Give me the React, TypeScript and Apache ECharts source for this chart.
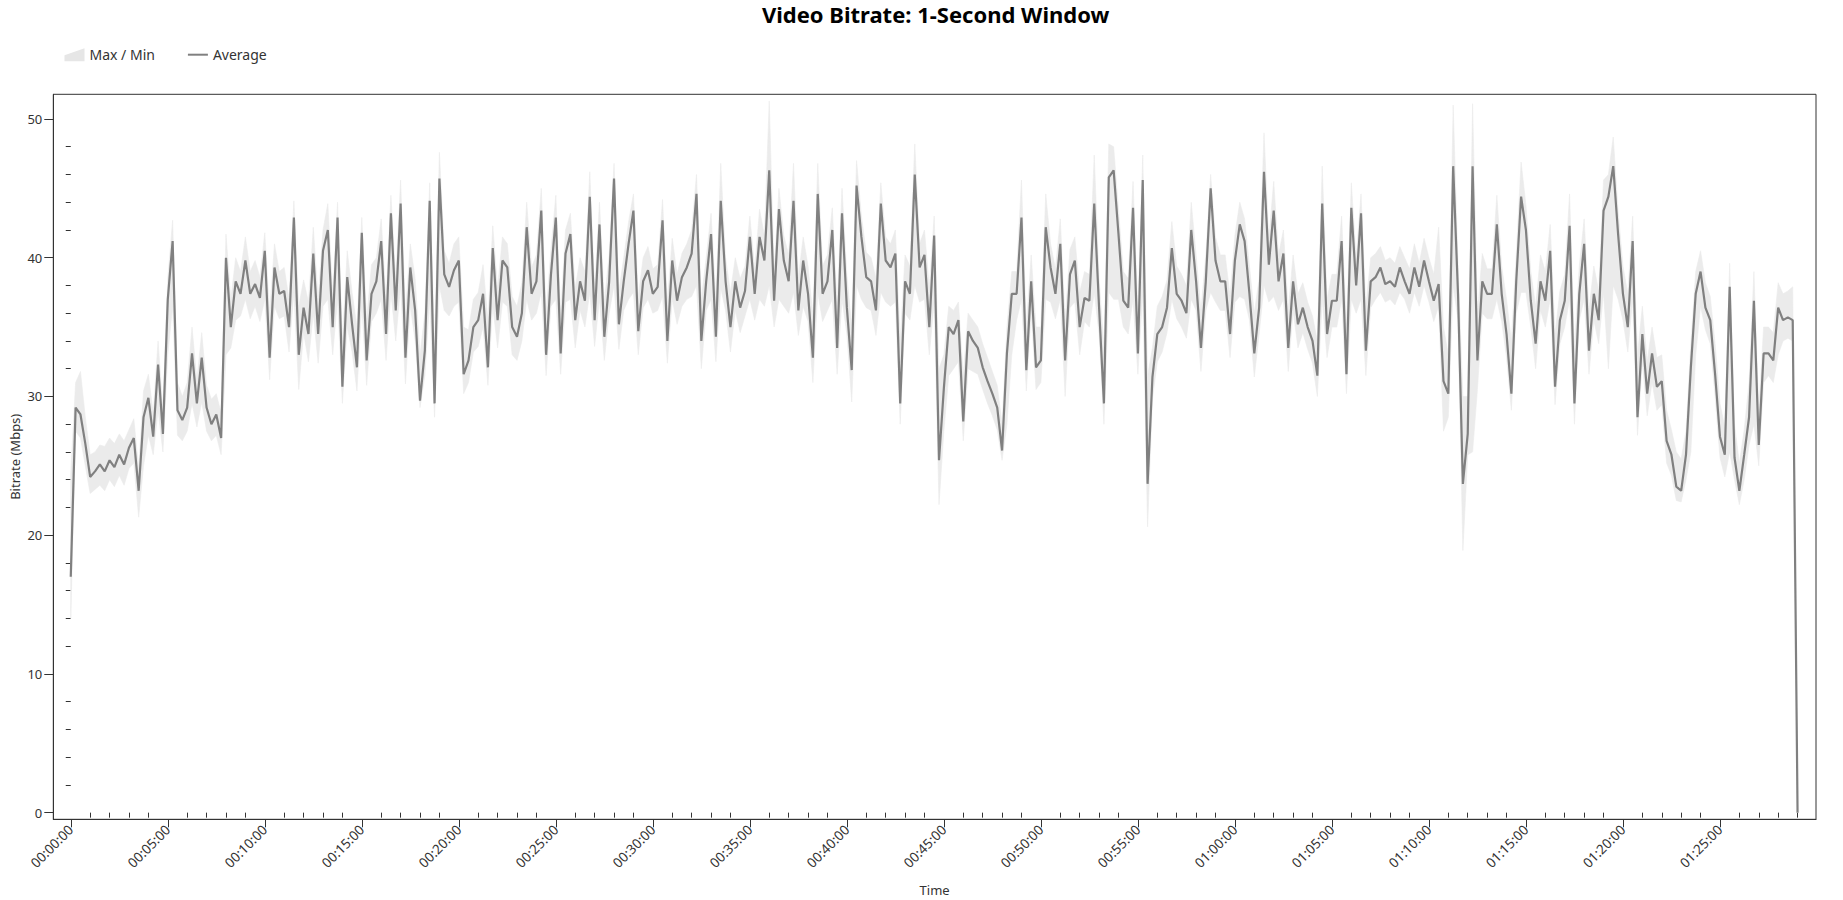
import React, { useEffect, useRef } from "react";
import * as echarts from "echarts";

// ---- data -------------------------------------------------------------
const CHART_TITLE = "Video Bitrate: 1-Second Window";
const X_AXIS_NAME = "Time";
const Y_AXIS_NAME = "Bitrate (Mbps)";
const SERIES_BAND = "Max / Min";
const SERIES_AVG = "Average";

// one sample every 15 seconds, starting at 00:00:00
const SAMPLE_STEP_SEC = 15;

const avgMbps = [
  17.0, 29.2, 28.7, 26.6, 24.2, 24.6, 25.1, 24.6, 25.4, 24.9,
  25.8, 25.1, 26.3, 27.0, 23.2, 28.5, 29.9, 27.1, 32.3, 27.3,
  37.0, 41.2, 29.0, 28.3, 29.2, 33.1, 29.5, 32.8, 29.2, 28.0,
  28.7, 27.0, 40.0, 35.0, 38.3, 37.4, 39.8, 37.4, 38.1, 37.1,
  40.5, 32.8, 39.3, 37.4, 37.6, 35.0, 42.9, 33.0, 36.4, 34.5,
  40.3, 34.5, 40.5, 42.0, 35.0, 42.9, 30.7, 38.6, 35.2, 32.1,
  41.8, 32.6, 37.4, 38.3, 41.2, 34.5, 43.2, 36.2, 43.9, 32.8,
  39.3, 36.2, 29.7, 33.3, 44.1, 29.5, 45.7, 38.8, 37.9, 39.1,
  39.8, 31.6, 32.6, 35.0, 35.5, 37.4, 32.1, 40.7, 35.5, 39.8,
  39.3, 35.0, 34.3, 36.0, 42.2, 37.4, 38.3, 43.4, 33.0, 38.8,
  42.9, 33.1, 40.3, 41.7, 35.5, 38.3, 36.9, 44.4, 35.5, 42.4,
  34.3, 38.3, 45.7, 35.2, 38.3, 41.0, 43.4, 34.7, 38.3, 39.1,
  37.4, 37.9, 42.7, 34.0, 39.8, 36.9, 38.6, 39.3, 40.3, 44.6,
  34.0, 38.3, 41.7, 34.3, 44.1, 38.3, 35.0, 38.3, 36.4, 37.6,
  41.5, 37.4,
  41.5, 39.8, 46.3, 36.9, 43.5, 39.8, 38.3, 44.1,
  36.2, 39.8, 37.4, 32.8, 44.6, 37.4, 38.3, 42.0, 33.5, 43.2,
  36.4, 31.9, 45.2, 41.5, 38.6, 38.3, 36.2, 43.9, 39.8, 39.3,
  40.3, 29.5, 38.3, 37.4, 46.0, 39.3, 40.2, 35.0, 41.6, 25.4,
  30.6, 35.0, 34.5, 35.5, 28.2, 34.7, 34.0, 33.5, 32.1, 31.1,
  30.2, 29.2, 26.1, 33.1, 37.4, 37.4, 42.9, 31.9, 38.3, 32.1,
  32.6, 42.2, 39.3, 37.4, 41.0, 32.6, 38.8, 39.8, 35.0, 37.1,
  36.9, 43.9,
  36.4, 29.5, 45.8, 46.3, 41.7, 36.9, 36.4, 43.6,
  33.1, 45.6, 23.7, 31.4, 34.5, 35.0, 36.4, 40.7, 37.4, 36.9,
  36.0, 42.0, 38.3, 33.5, 38.3, 45.0, 39.8, 38.3, 38.3, 34.5,
  39.8, 42.4, 41.2, 37.4, 33.1, 36.4, 46.2, 39.5, 43.4, 38.3,
  40.3, 33.5, 38.3, 35.2, 36.4, 35.0, 34.0, 31.5, 43.9, 34.5,
  36.9, 36.9, 41.2, 31.6, 43.6, 38.0, 43.2, 33.3, 38.3, 38.6,
  39.3, 38.1, 38.3, 37.9, 39.3, 38.3, 37.4, 39.3, 37.9, 39.8,
  38.3, 36.9, 38.1, 31.1,
  30.2, 46.6, 37.4, 23.7, 27.3, 46.6,
  32.6, 38.3, 37.4, 37.4, 42.4, 37.4, 34.5, 30.2, 38.3, 44.4,
  42.0, 36.9, 33.8, 38.3, 36.9, 40.5, 30.7, 35.5, 36.9, 42.3,
  29.5, 37.4, 41.0, 33.3, 37.4, 35.5, 43.4, 44.4, 46.6, 41.7,
  37.4, 35.0, 41.2, 28.5, 34.5, 30.2, 33.1, 30.7, 31.1, 26.8,
  25.8, 23.5, 23.2, 25.8, 32.1, 37.4, 39.0, 36.4, 35.5, 31.6,
  27.1, 25.8, 37.9, 25.6, 23.2, 25.8, 28.5, 36.9, 26.5, 33.1,
  33.1, 32.6, 36.4, 35.5, 35.7, 35.5, 0,
];

const maxMbps = [
  24.5, 31.0, 31.8, 28.5, 25.8, 26.0, 26.5, 26.4, 27.0, 26.6,
  27.3, 26.8, 27.6, 28.4, 24.8, 30.4, 31.6, 28.8, 34.0, 29.0,
  38.5, 42.7, 31.0, 30.0, 31.0, 35.0, 31.2, 34.6, 30.8, 29.8,
  30.2, 28.8, 41.7, 37.0, 40.0, 39.0, 41.5, 39.0, 39.8, 38.6,
  41.8, 36.0, 41.0, 39.0, 39.3, 37.0, 44.1, 36.5, 38.4, 36.8,
  42.2, 37.0, 42.0, 43.9, 37.4, 44.0, 34.0, 40.5, 37.5, 35.0,
  42.9, 35.5, 39.5, 40.0, 42.8, 37.0, 44.5, 38.5, 45.6, 36.0,
  41.0, 38.5, 33.0, 36.0, 45.4, 33.5, 47.6, 40.5, 39.6, 41.0,
  41.5, 35.0, 34.8, 37.0, 37.5, 39.5, 35.5, 42.3, 37.8, 41.5,
  41.0, 37.2, 36.5, 38.2, 44.0, 39.3, 40.2, 45.0, 36.0, 40.6,
  44.5, 36.0, 42.0, 43.2, 37.8, 40.0, 39.0, 46.2, 37.8, 44.0,
  36.8, 40.2, 46.8, 37.6, 40.0, 42.6, 44.6, 37.2, 40.0, 40.8,
  39.2, 39.5, 44.2, 36.8, 41.4, 38.8, 40.3, 41.0, 42.0, 46.0,
  37.0, 40.0, 43.2, 37.0, 46.8, 40.0, 37.5, 40.0, 38.5, 39.4,
  43.0, 39.2,
  43.5, 41.6, 51.3, 39.0, 45.0, 41.6, 40.2, 46.8,
  38.6, 41.5, 39.4, 35.8, 46.8, 39.4, 40.2, 43.6, 36.5, 45.0,
  38.8, 35.0, 47.0, 43.0, 40.4, 40.0, 38.5, 45.4, 41.5, 41.0,
  42.0, 34.0, 40.2, 39.4, 48.2, 41.0, 42.0, 37.8, 43.0, 32.0,
  33.0, 36.5, 36.2, 36.8, 31.5, 36.0, 35.5, 35.0, 33.8, 32.8,
  31.8, 30.8, 28.0, 35.0, 39.0, 39.0, 45.6, 35.0, 40.2, 35.0,
  35.0, 44.6, 41.0, 39.2, 42.8, 35.5, 40.6, 41.5, 37.5, 39.0,
  38.8, 47.4,
  38.5, 33.5, 48.2, 48.0, 43.5, 39.0, 38.5, 45.5,
  36.0, 47.4, 31.5, 33.5, 36.5, 37.2, 38.4, 42.6, 39.4, 38.8,
  38.0, 44.0, 40.2, 36.2, 40.2, 46.0, 41.5, 40.2, 40.2, 37.2,
  41.6, 44.0, 42.8, 39.4, 36.0, 38.5, 49.0, 41.4, 45.5, 40.2,
  42.0, 36.2, 40.2, 37.4, 38.2, 36.8, 35.8, 34.0, 46.6, 37.0,
  38.8, 38.8, 43.0, 35.0, 45.4, 40.0, 44.6, 36.5, 40.0, 40.3,
  40.8, 39.8, 40.0, 39.6, 40.8, 40.0, 39.2, 41.0, 39.6, 41.4,
  40.0, 38.8, 42.2, 35.0,
  33.0, 51.0, 39.5, 30.0, 30.0, 51.1,
  36.0, 40.3, 39.2, 39.2, 44.5, 39.4, 37.0, 34.0, 40.2, 46.9,
  43.8, 39.0, 36.5, 40.2, 39.0, 42.4, 34.5, 37.6, 38.8, 44.6,
  33.5, 39.4, 42.8, 36.2, 39.4, 37.6, 45.6, 46.0, 48.7, 43.4,
  39.4, 37.4, 43.0, 33.0, 36.5, 32.5, 35.0, 32.8, 33.0, 29.0,
  27.6, 26.0, 25.5, 27.5, 33.8, 39.0, 40.5, 38.2, 37.2, 33.8,
  29.5, 27.8, 39.6, 28.0, 25.2, 27.6, 31.0, 39.0, 29.0, 35.0,
  35.0, 34.6, 38.2, 37.4, 37.6, 37.9, 0.4,
];

const minMbps = [
  14.0, 27.5, 27.0, 25.0, 23.0, 23.3, 23.6, 23.2, 24.0, 23.5,
  24.3, 23.6, 24.8, 25.2, 21.3, 25.0, 27.2, 25.8, 29.0, 26.0,
  33.0, 36.5, 27.2, 26.8, 27.5, 29.5, 27.8, 29.6, 27.5, 26.8,
  27.2, 25.8, 33.0, 33.5, 35.5, 35.8, 37.0, 35.6, 36.5, 35.4,
  37.0, 31.2, 36.5, 35.6, 35.8, 33.2, 37.5, 30.5, 34.6, 32.5,
  36.0, 32.4, 36.5, 37.0, 33.0, 37.0, 29.5, 35.0, 33.2, 30.4,
  36.5, 30.8, 35.4, 36.0, 37.0, 32.6, 37.5, 34.0, 38.0, 30.9,
  36.5, 34.0, 29.2, 31.5, 37.0, 28.5, 38.0, 36.2, 35.8, 36.5,
  36.8, 30.2, 31.0, 33.2, 33.6, 35.0, 30.8, 36.5, 33.5, 36.8,
  36.5, 33.0, 32.6, 34.0, 37.0, 35.5, 36.0, 37.5, 31.5, 36.5,
  37.0, 31.6, 36.8, 37.0, 33.5, 36.2, 35.0, 37.5, 33.6, 37.0,
  32.6, 36.0, 38.0, 33.4, 36.2, 37.0, 37.5, 33.0, 36.4, 37.0,
  36.0, 36.2, 37.2, 32.4, 37.0, 35.2, 36.5, 37.0, 37.2, 38.0,
  32.0, 36.2, 37.0, 32.5, 37.8, 36.2, 33.2, 36.2, 34.6, 35.8,
  37.0, 35.5,
  37.0, 36.5, 38.0, 35.0, 37.0, 36.5, 36.0, 37.5,
  34.4, 36.5, 35.4, 31.0, 37.5, 35.4, 36.2, 37.0, 31.6, 37.0,
  34.5, 29.6, 38.0, 37.0, 36.4, 36.2, 34.4, 37.5, 36.8, 36.5,
  36.8, 28.0, 36.0, 35.5, 38.0, 36.8, 37.0, 33.0, 36.8, 22.2,
  27.5, 31.5, 32.0, 32.5, 26.8, 32.0, 31.8, 31.6, 30.5, 29.5,
  28.6, 27.6, 25.4, 28.0, 33.0, 35.5, 37.0, 30.4, 36.0, 30.5,
  31.0, 37.0, 36.8, 35.6, 37.0, 30.0, 36.4, 36.8, 33.0, 35.4,
  35.0, 37.5,
  34.5, 28.0, 37.5, 37.0, 37.0, 35.0, 34.5, 37.0,
  31.6, 37.5, 20.6, 29.8, 32.5, 33.2, 34.6, 37.0, 35.6, 35.0,
  34.2, 37.0, 36.2, 31.8, 36.2, 37.5, 36.8, 36.2, 36.2, 32.8,
  36.8, 37.2, 37.0, 35.5, 31.4, 34.5, 38.0, 36.8, 37.2, 36.2,
  37.0, 31.8, 36.2, 33.5, 34.6, 33.4, 32.4, 30.0, 37.0, 32.8,
  35.0, 35.0, 37.0, 30.2, 37.0, 36.0, 37.0, 31.5, 36.4, 37.0,
  37.5, 36.8, 37.0, 36.6, 37.5, 37.0, 36.0, 37.5, 36.5, 38.0,
  36.8, 35.4, 36.5, 27.5,
  28.5, 38.0, 35.5, 18.9, 25.8, 26.0,
  30.5, 36.0, 35.6, 35.6, 37.0, 35.4, 32.8, 29.0, 36.0, 37.5,
  37.5, 35.0, 32.0, 36.2, 35.0, 37.0, 29.4, 33.8, 35.0, 37.0,
  28.0, 35.5, 37.0, 31.6, 35.5, 33.8, 37.5, 32.0, 38.0, 37.0,
  35.5, 33.2, 37.0, 27.2, 32.5, 28.6, 31.0, 29.0, 29.4, 25.2,
  24.3, 22.5, 22.4, 24.0, 26.0, 33.0, 36.5, 34.8, 33.8, 30.0,
  25.6, 24.2, 26.0, 24.0, 22.2, 24.0, 26.5, 28.0, 25.0, 31.0,
  31.5, 31.0, 33.0, 34.0, 34.2, 34.0, 0,
];

// tick positions (seconds / Mbps)
const xMajorTicksSec = [
  0, 300, 600, 900, 1200, 1500, 1800, 2100, 2400, 2700, 3000, 3300,
  3600, 3900, 4200, 4500, 4800, 5100,
];
const yMajorTicks = [0, 10, 20, 30, 40, 50];
const X_MIN = -54;
const X_MAX = 5397;
const Y_MIN = -0.48;
const Y_MAX = 51.78;

// ---- helpers ----------------------------------------------------------
const FONT = "'Noto Sans', 'Open Sans', sans-serif";
const BAND_COLOR = "#ebebeb";
const LINE_COLOR = "#808080";

const pad2 = (n: number) => (n < 10 ? "0" + n : String(n));
const fmtTime = (sec: number) => {
  const s = Math.round(sec);
  const h = Math.floor(s / 3600);
  const m = Math.floor((s % 3600) / 60);
  return pad2(h) + ":" + pad2(m) + ":" + pad2(s % 60);
};

const xMinorTicksSec: number[] = [];
for (let m = 1; m <= 89; m++) if (m % 5 !== 0) xMinorTicksSec.push(m * 60);
const yMinorTicks: number[] = [];
for (let v = 2; v < 50; v += 2) if (v % 10 !== 0) yMinorTicks.push(v);

function buildOption() {
  const times = avgMbps.map((_, i) => i * SAMPLE_STEP_SEC);
  const avgData = avgMbps.map((v, i) => [times[i], v]);
  const bandData = times.map((t, i) => [t, minMbps[i], maxMbps[i]]);

  const axisColor = "#333";
  const labelColor = "#333";

  const renderBand = (params: any, api: any) => {
    if (params.dataIndex !== 0) return null;
    const pts: number[][] = [];
    for (let i = 0; i < bandData.length; i++) {
      pts.push(api.coord([bandData[i][0], bandData[i][2]]));
    }
    for (let i = bandData.length - 1; i >= 0; i--) {
      pts.push(api.coord([bandData[i][0], bandData[i][1]]));
    }
    return {
      type: "polygon",
      shape: { points: pts },
      style: { fill: BAND_COLOR, stroke: BAND_COLOR, lineWidth: 0.6 },
      silent: true,
    };
  };

  return {
    animation: false,
    backgroundColor: "#fff",
    textStyle: { fontFamily: FONT },
    title: {
      text: CHART_TITLE,
      left: 930.6,
      textAlign: "center",
      top: -2.5,
      textStyle: {
        fontFamily: FONT,
        fontSize: 22,
        fontWeight: "bold",
        color: "#000",
      },
    },
    legend: {
      left: 59.5,
      top: 42.7,
      itemWidth: 20,
      itemHeight: 13,
      itemGap: 33,
      textStyle: { fontFamily: FONT, fontSize: 14, color: "#333" },
      data: [
        {
          name: SERIES_BAND,
          icon: "path://M0,7L20,0L20,13L0,13Z",
          itemStyle: { color: "#e6e6e6" },
        },
        {
          name: SERIES_AVG,
          icon: "path://M0,0L20,0L20,2L0,2Z",
          itemStyle: { color: LINE_COLOR },
        },
      ],
    },
    grid: {
      left: 53.3,
      right: 27,
      top: 94.3,
      bottom: 80.7,
      containLabel: false,
      outerBoundsMode: "none",
      show: true,
      borderColor: axisColor,
      borderWidth: 1,
      backgroundColor: "transparent",
    },
    xAxis: [
      {
        type: "value",
        min: X_MIN,
        max: X_MAX,
        name: X_AXIS_NAME,
        nameLocation: "middle",
        nameGap: 64,
        nameMoveOverlap: false,
        nameTextStyle: { fontFamily: FONT, fontSize: 13, color: labelColor },
        axisLine: { show: true, onZero: false, lineStyle: { color: axisColor, width: 1 } },
        axisTick: {
          show: true,
          length: 8,
          customValues: xMajorTicksSec,
          lineStyle: { color: axisColor, width: 1 },
        },
        axisLabel: {
          show: true,
          customValues: xMajorTicksSec,
          rotate: 45,
          margin: 8,
          fontFamily: FONT,
          fontSize: 13.5,
          color: labelColor,
          formatter: (v: number) => fmtTime(v),
        },
        splitLine: { show: false },
      },
      {
        type: "value",
        min: X_MIN,
        max: X_MAX,
        position: "bottom",
        axisLine: { show: false },
        axisTick: {
          show: true,
          length: 5,
          customValues: xMinorTicksSec,
          lineStyle: { color: axisColor, width: 1 },
        },
        axisLabel: { show: false },
        splitLine: { show: false },
      },
    ],
    yAxis: [
      {
        type: "value",
        min: Y_MIN,
        max: Y_MAX,
        name: Y_AXIS_NAME,
        nameLocation: "middle",
        nameGap: 32,
        nameMoveOverlap: false,
        nameTextStyle: { fontFamily: FONT, fontSize: 13, color: labelColor },
        axisLine: { show: true, onZero: false, lineStyle: { color: axisColor, width: 1 } },
        axisTick: {
          show: true,
          length: 9,
          customValues: yMajorTicks,
          lineStyle: { color: axisColor, width: 1 },
        },
        axisLabel: {
          show: true,
          customValues: yMajorTicks,
          margin: 11,
          fontFamily: FONT,
          fontSize: 13,
          color: labelColor,
        },
        splitLine: { show: false },
      },
      {
        type: "value",
        min: Y_MIN,
        max: Y_MAX,
        position: "left",
        axisLine: { show: false },
        axisTick: {
          show: true,
          length: 5,
          customValues: yMinorTicks,
          lineStyle: { color: axisColor, width: 1 },
        },
        axisLabel: { show: false },
        splitLine: { show: false },
      },
    ],
    series: [
      {
        name: SERIES_BAND,
        type: "custom",
        data: bandData,
        encode: { x: 0, y: [1, 2] },
        renderItem: renderBand,
        itemStyle: { color: "#e6e6e6" },
        silent: true,
        clip: true,
        z: 1,
      },
      {
        name: SERIES_AVG,
        type: "line",
        data: avgData,
        symbol: "none",
        showSymbol: false,
        itemStyle: { color: LINE_COLOR },
        lineStyle: { color: LINE_COLOR, width: 2.2 },
        z: 3,
      },
    ],
  };
}

export default function App() {
  const ref = useRef<HTMLDivElement>(null);
  useEffect(() => {
    document.body.style.margin = "0";
    if (!ref.current) return;
    const chart = echarts.init(ref.current, null, { renderer: "svg" });
    chart.setOption(buildOption() as any);
    return () => chart.dispose();
  }, []);
  return <div ref={ref} style={{ width: 1843, height: 900 }} />;
}
